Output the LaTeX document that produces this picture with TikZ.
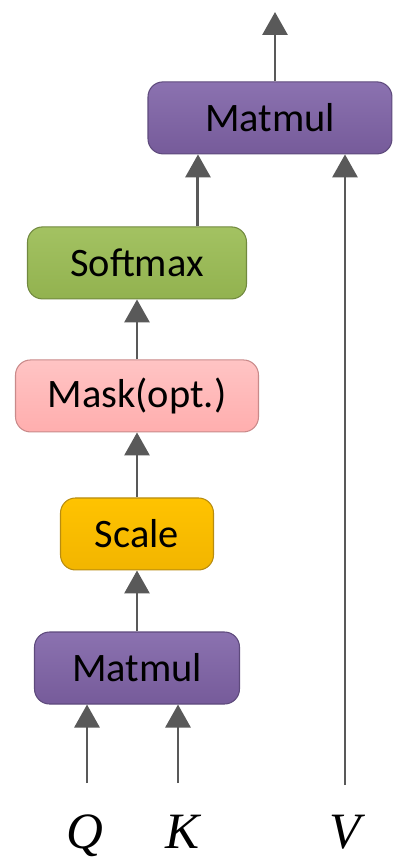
\documentclass[tikz,border=0pt]{standalone}
\usepackage{fontspec}
\setmainfont{Carlito}
\newfontfamily\letterfont{Liberation Serif}
\usetikzlibrary{arrows.meta, positioning}
\definecolor{arrowgray}{HTML}{595959}
\definecolor{mmtop}{HTML}{8B72B0}
\definecolor{mmbot}{HTML}{765B9A}
\definecolor{mmline}{HTML}{5E4A7C}
\definecolor{smtop}{HTML}{A3C262}
\definecolor{smbot}{HTML}{92B24F}
\definecolor{smline}{HTML}{71893F}
\definecolor{mktop}{HTML}{FFC4C4}
\definecolor{mkbot}{HTML}{FFAEAE}
\definecolor{mkline}{HTML}{C98A8A}
\definecolor{sctop}{HTML}{FFC300}
\definecolor{scbot}{HTML}{F2B500}
\definecolor{scline}{HTML}{B88C10}
\tikzset{
  opbox/.style={rectangle, rounded corners=0.3cm,
    minimum height=1.44cm, inner sep=0pt,
    text centered, line width=0.6pt,
    font=\fontsize{23}{27}\selectfont},
  matmul/.style={opbox, draw=mmline, top color=mmtop, bottom color=mmbot},
  softbox/.style={opbox, draw=smline, top color=smtop, bottom color=smbot,
    minimum width=4.38cm},
  maskbox/.style={opbox, draw=mkline, top color=mktop, bottom color=mkbot,
    minimum width=4.86cm},
  scalebox/.style={opbox, draw=scline, top color=sctop, bottom color=scbot,
    minimum width=3.06cm},
  letter/.style={anchor=base, inner sep=0pt,
    font=\letterfont\itshape\fontsize{29}{33}\selectfont},
  arr/.style={-{Triangle[length=0.46cm, width=0.5cm]}, line width=1.7pt, draw=arrowgray},
}
\begin{document}
\begin{tikzpicture}[x=0.02cm, y=-0.02cm]
\useasboundingbox (0,0) rectangle (394,861);

\node (mm1) [matmul, minimum width=4.1cm] at (137,668) {Matmul};
\node (scale) [scalebox, above=1.22cm of mm1] {Scale};
\node (mask) [maskbox, above=1.3cm of scale] {Mask(opt.)};
\node (soft) [softbox, above=1.2cm of mask] {Softmax};
\node (mm2) [matmul, minimum width=4.88cm, above=1.44cm of soft, xshift=2.66cm] {Matmul};

% inputs
\coordinate (qin) at (87,783);
\coordinate (kin) at (178,783);
\coordinate (vin) at (345,785);
\coordinate (out) at (275,12);
\node (q) [letter] at (85,848) {Q};
\node (k) [letter] at (182,848) {K};
\node (v) [letter] at (345,848) {V};

\draw[arr] (qin) -- (qin |- mm1.south);
\draw[arr] (kin) -- (kin |- mm1.south);
\draw[arr] (mm1) -- (scale);
\draw[arr] (scale) -- (mask);
\draw[arr] (mask) -- (soft);
\draw[arr] ([xshift=1.22cm]soft.north) -- ([xshift=1.22cm]soft.north |- mm2.south);
\draw[arr] (vin) -- (vin |- mm2.south);
\draw[arr] (out |- mm2.north) -- (out);

\end{tikzpicture}
\end{document}
